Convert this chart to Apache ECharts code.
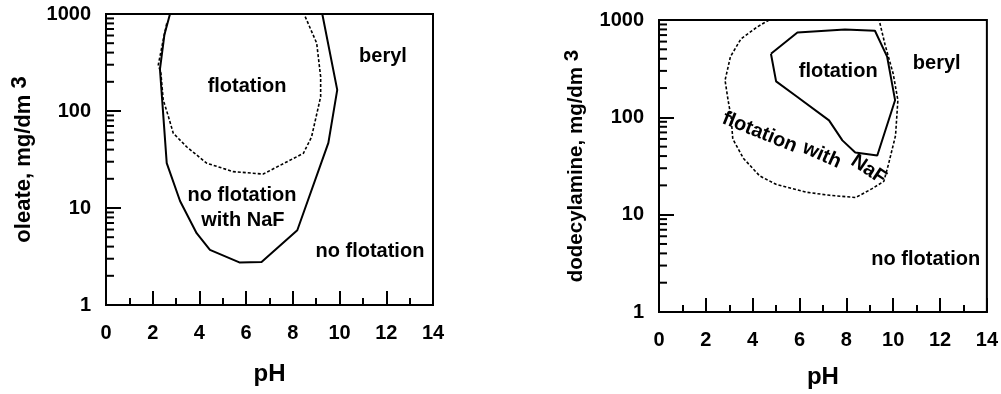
<!DOCTYPE html>
<html>
<head>
<meta charset="utf-8">
<script src="https://cdn.jsdelivr.net/npm/echarts@6/dist/echarts.min.js"></script>
<style>
  html, body { margin: 0; padding: 0; background: #fff; }
  #chart { width: 1001px; height: 394px; }
</style>
</head>
<body>
<div id="chart"></div>
<script>
// Beryl flotation regions: oleate (left) and dodecylamine (right) vs pH
const oleateFlotationPH   = [2.74, 2.50, 2.31, 2.60, 3.17, 3.88, 4.45, 5.71, 6.66, 8.19, 9.52, 9.90, 9.26];
const oleateFlotationConc = [1000, 610, 270, 29, 11.8, 5.5, 3.7, 2.75, 2.78, 5.9, 47, 165, 1000];

const oleateNaFPH   = [2.60, 2.45, 2.24, 2.35, 2.45, 2.67, 2.88, 3.45, 4.31, 5.45, 6.73, 8.45, 8.80, 9.19, 9.19, 9.02, 8.48];
const oleateNaFConc = [800, 540, 300, 245, 130, 88, 59, 42.8, 29, 23.7, 22.4, 36.6, 54, 140, 226, 500, 1000];

const amineFlotationPH   = [4.78, 5.91, 7.94, 9.22, 9.74, 10.08, 9.32, 8.38, 7.83, 7.26, 5.91, 5.00, 4.78];
const amineFlotationConc = [450, 745, 800, 775, 420, 150, 40.5, 43.5, 58, 93, 162, 234, 450];

const amineNaFPH   = [4.70, 4.20, 3.50, 3.05, 2.82, 2.95, 3.08, 3.15, 3.60, 4.30, 5.00, 6.30, 7.30, 8.40, 9.10, 9.60, 9.80, 10.10, 10.20, 10.00, 9.65, 9.40];
const amineNaFConc = [1000, 850, 640, 420, 240, 150, 100, 60, 38, 25, 20.5, 17, 15.8, 15, 18.5, 22, 33, 65, 150, 280, 560, 1000];

// minor ticks of the logarithmic concentration axes
const minorTickValues = [2, 3, 4, 5, 6, 7, 8, 9, 20, 30, 40, 50, 60, 70, 80, 90, 200, 300, 400, 500, 600, 700, 800, 900];

// region labels: [text, pH, concentration, rotation in degrees]
const oleateLabels = [
  ['flotation', 6.04, 177, 0],
  ['beryl', 11.86, 369, 0],
  ['no flotation', 5.82, 13.6, 0],
  ['with NaF', 5.86, 7.5, 0],
  ['no flotation', 11.3, 3.54, 0]
];
const amineLabels = [
  ['flotation', 4.3, 70, -22],
  ['with', 6.95, 41, -24],
  ['NaF', 8.95, 29, -34],
  ['flotation', 7.65, 298, 0],
  ['beryl', 11.86, 360, 0],
  ['no flotation', 11.39, 3.5, 0]
];

const FONT = '"Liberation Sans", Arial, Helvetica, sans-serif';
const zip = (xs, ys) => xs.map((x, i) => [x, ys[i]]);

function xAxisFor(gridIndex, nameGap) {
  return {
    gridIndex: gridIndex,
    type: 'value',
    min: 0, max: 14, interval: 2,
    name: 'pH',
    nameLocation: 'middle',
    nameGap: nameGap,
    nameTextStyle: { fontFamily: FONT, fontWeight: 'bold', fontSize: 24, color: '#000' },
    axisLine: { show: true, lineStyle: { color: '#000', width: 2 } },
    axisTick: { show: true, inside: true, length: 14, lineStyle: { color: '#000', width: 2 } },
    minorTick: { show: true, splitNumber: 2, length: 7, lineStyle: { color: '#000', width: 2 } },
    axisLabel: { margin: 18, fontFamily: FONT, fontWeight: 'bold', fontSize: 20, color: '#000' },
    splitLine: { show: false },
    minorSplitLine: { show: false }
  };
}

function yAxisFor(gridIndex, title, nameGap, fontSize) {
  return {
    gridIndex: gridIndex,
    type: 'log',
    logBase: 10,
    min: 1, max: 1000,
    name: title + ' {sup|3}',
    nameLocation: 'middle',
    nameRotate: 90,
    nameGap: nameGap,
    nameTextStyle: {
      fontFamily: FONT, fontWeight: 'bold', fontSize: fontSize, color: '#000',
      rich: {
        sup: { fontFamily: FONT, fontWeight: 'bold', fontSize: fontSize, color: '#000', padding: [0, 0, 8, 0] }
      }
    },
    axisLine: { show: true, lineStyle: { color: '#000', width: 2 } },
    axisTick: { show: true, inside: true, length: 15, lineStyle: { color: '#000', width: 2 } },
    axisLabel: {
      margin: 15, fontFamily: FONT, fontWeight: 'bold', fontSize: 20, color: '#000',
      showMinLabel: true, showMaxLabel: true,
      formatter: v => String(v)
    },
    splitLine: { show: false }
  };
}

function curve(idx, pts, dashed) {
  return {
    type: 'line',
    xAxisIndex: idx, yAxisIndex: idx,
    data: pts,
    symbol: 'none',
    smooth: false,
    silent: true,
    lineStyle: dashed
      ? { color: '#000', width: 1.6, type: [3, 2] }
      : { color: '#000', width: 2 }
  };
}

function minorTicks(idx) {
  return {
    type: 'custom',
    xAxisIndex: idx, yAxisIndex: idx,
    silent: true,
    data: minorTickValues.map(v => [0, v]),
    renderItem: function (params, api) {
      const p = api.coord([api.value(0), api.value(1)]);
      return {
        type: 'line',
        shape: { x1: p[0], y1: p[1], x2: p[0] + 8, y2: p[1] },
        style: { stroke: '#000', lineWidth: 2 }
      };
    }
  };
}

function labels(idx, list) {
  return {
    type: 'scatter',
    xAxisIndex: idx, yAxisIndex: idx,
    symbolSize: 0,
    silent: true,
    itemStyle: { opacity: 1, color: '#000' },
    data: list.map(l => ({
      value: [l[1], l[2]],
      name: l[0],
      label: { rotate: l[3] }
    })),
    label: {
      show: true,
      position: 'inside',
      formatter: p => p.name,
      opacity: 1,
      textBorderWidth: 0,
      fontFamily: FONT, fontWeight: 'bold', fontSize: 20, color: '#000'
    }
  };
}

const chart = echarts.init(document.getElementById('chart'), null, { renderer: 'canvas' });
chart.setOption({
  animation: false,
  backgroundColor: '#fff',
  grid: [
    { left: 106, top: 14, width: 327, height: 291, show: true, borderColor: '#000', borderWidth: 2, backgroundColor: 'transparent' },
    { left: 659, top: 20, width: 329, height: 292, show: true, borderColor: '#000', borderWidth: 2, backgroundColor: 'transparent' }
  ],
  xAxis: [xAxisFor(0, 57), xAxisFor(1, 53)],
  yAxis: [
    yAxisFor(0, 'oleate, mg/dm', 67, 22),
    yAxisFor(1, 'dodecylamine, mg/dm', 68, 20.5)
  ],
  series: [
    curve(0, zip(oleateFlotationPH, oleateFlotationConc), false),
    curve(0, zip(oleateNaFPH, oleateNaFConc), true),
    curve(1, zip(amineFlotationPH, amineFlotationConc), false),
    curve(1, zip(amineNaFPH, amineNaFConc), true),
    minorTicks(0),
    minorTicks(1),
    labels(0, oleateLabels),
    labels(1, amineLabels)
  ]
});
</script>
</body>
</html>
